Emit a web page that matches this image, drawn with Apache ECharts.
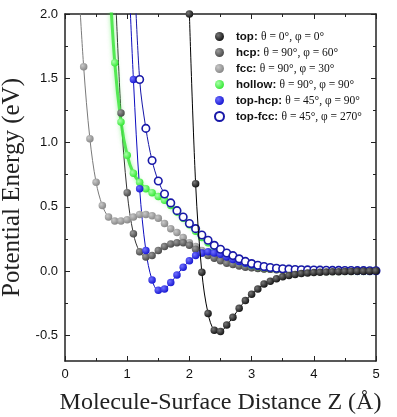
<!DOCTYPE html>
<html>
<head>
    <meta charset="UTF-8">
    <title>potential energy curves</title>
    <script src="https://cdn.jsdelivr.net/npm/echarts@6/dist/echarts.min.js"></script>
</head>
<body style="margin:0">
<div id="main" style="width:397px;height:417px;"></div>
<script type="text/javascript">
    // Z (Angstrom), one point every 0.1
    var distance = [0.0, 0.1, 0.2, 0.3, 0.4, 0.5, 0.6, 0.7, 0.8, 0.9,
        1.0, 1.1, 1.2, 1.3, 1.4, 1.5, 1.6, 1.7, 1.8, 1.9,
        2.0, 2.1, 2.2, 2.3, 2.4, 2.5, 2.6, 2.7, 2.8, 2.9,
        3.0, 3.1, 3.2, 3.3, 3.4, 3.5, 3.6, 3.7, 3.8, 3.9,
        4.0, 4.1, 4.2, 4.3, 4.4, 4.5, 4.6, 4.7, 4.8, 4.9, 5.0];

    var names = ['top', 'hcp', 'fcc', 'hollow', 'top-hcp', 'top-fcc'];
    var thetas = [0, 90, 90, 90, 45, 45];
    var phis = [0, 60, 30, 90, 90, 270];

    // energies in eV (null = not computed)
    var eTop = [null, null, null, null, null, null, null, null, null, null,
        null, null, null, null, null, null, null, null, null, null,
        2.0, 0.68, -0.01, -0.33, -0.46, -0.47, -0.42, -0.36, -0.29, -0.23,
        -0.18, -0.14, -0.10, -0.08, -0.06, -0.045, -0.035, -0.027, -0.02, -0.016,
        -0.012, -0.01, -0.008, -0.006, -0.005, -0.004, -0.003, -0.002, -0.002, -0.001, 0];
    var eHcp = [null, null, null, null, null, null, null, null, 2.3, 1.23,
        0.61, 0.29, 0.15, 0.11, 0.12, 0.16, 0.19, 0.21, 0.22, 0.22,
        0.20, 0.17, 0.14, 0.12, 0.10, 0.08, 0.06, 0.05, 0.04, 0.03,
        0.025, 0.02, 0.016, 0.013, 0.01, 0.008, 0.006, 0.005, 0.004, 0.003,
        0.003, 0.002, 0.002, 0.002, 0.001, 0.001, 0.001, 0.001, 0, 0, 0];
    var eFcc = [null, null, 2.4, 1.59, 1.03, 0.69, 0.51, 0.42, 0.39, 0.39,
        0.40, 0.42, 0.44, 0.44, 0.43, 0.41, 0.37, 0.33, 0.30, 0.26,
        0.22, 0.19, 0.16, 0.13, 0.11, 0.09, 0.07, 0.055, 0.045, 0.035,
        0.028, 0.022, 0.018, 0.014, 0.011, 0.009, 0.007, 0.006, 0.005, 0.004,
        0.003, 0.003, 0.002, 0.002, 0.002, 0.001, 0.001, 0.001, 0, 0, 0];
    var eHollow = [null, null, null, null, null, null, null, 2.4, 1.62, 1.16,
        0.90, 0.76, 0.69, 0.64, 0.61, 0.58, 0.55, 0.51, 0.46, 0.41,
        0.36, 0.31, 0.26, 0.22, 0.18, 0.15, 0.12, 0.095, 0.075, 0.06,
        0.045, 0.035, 0.028, 0.022, 0.018, 0.014, 0.011, 0.009, 0.007, 0.006,
        0.005, 0.004, 0.003, 0.003, 0.002, 0.002, 0.002, 0.001, 0.001, 0.001, 0];
    var eTopHcp = [null, null, null, null, null, null, null, null, null, null,
        2.6, 1.49, 0.64, 0.16, -0.07, -0.15, -0.14, -0.09, -0.03, 0.03,
        0.08, 0.12, 0.14, 0.15, 0.14, 0.13, 0.11, 0.09, 0.075, 0.06,
        0.047, 0.037, 0.03, 0.024, 0.019, 0.015, 0.012, 0.01, 0.008, 0.007,
        0.006, 0.005, 0.004, 0.004, 0.003, 0.003, 0.002, 0.002, 0.001, 0.001, 0];
    var eTopFcc = [null, null, null, null, null, null, null, null, null, null,
        null, 2.5, 1.49, 1.11, 0.86, 0.70, 0.60, 0.53, 0.47, 0.42,
        0.37, 0.33, 0.28, 0.24, 0.20, 0.17, 0.14, 0.12, 0.095, 0.075,
        0.058, 0.045, 0.035, 0.028, 0.022, 0.018, 0.015, 0.012, 0.01, 0.009,
        0.008, 0.007, 0.006, 0.005, 0.005, 0.004, 0.004, 0.003, 0.003, 0.002, 0.002];

    var yMajor = [-0.5, 0, 0.5, 1.0, 1.5, 2.0];
    var yMinor = [-0.25, 0.25, 0.75, 1.25, 1.75];

    function pairs(vals) {
        var out = [];
        for (var i = 0; i < distance.length; i++) {
            if (vals[i] !== null) out.push([distance[i], vals[i]]);
        }
        return out;
    }
    // shaded ball look of the markers
    function ball(base, light) {
        return {
            type: 'radial', x: 0.35, y: 0.35, r: 0.75,
            colorStops: [{offset: 0, color: light}, {offset: 1, color: base}]
        };
    }

    var axisCol = '#222';
    var myChart = echarts.init(document.getElementById('main'));

    function lineSeries(name, vals, lineCol, fill, extra) {
        var s = {
            name: name,
            type: 'line',
            data: pairs(vals),
            smooth: 0.35,
            symbol: 'circle',
            symbolSize: 7.5,
            clip: true,
            lineStyle: {color: lineCol, width: 1},
            itemStyle: {color: fill},
            emphasis: {disabled: true},
            z: 2
        };
        for (var k in extra) s[k] = extra[k];
        return s;
    }

    var tickAxisY = function (pos, vals, len, line) {
        return {
            type: 'value', position: pos, min: -0.7, max: 2.0,
            axisLine: {show: line, onZero: false, lineStyle: {color: axisCol, width: 1.5}},
            axisTick: {show: true, inside: true, length: len, customValues: vals,
                lineStyle: {color: axisCol, width: 1}},
            axisLabel: {show: false},
            splitLine: {show: false}
        };
    };

    myChart.setOption({
        animation: false,
        backgroundColor: '#fff',
        grid: {left: 65, right: 21, top: 14, bottom: 56, containLabel: false, outerBoundsMode: 'none'},
        legend: {
            orient: 'vertical',
            left: 209,
            top: 25,
            icon: 'circle',
            itemWidth: 9,
            itemHeight: 9,
            itemGap: 3,
            data: names,
            formatter: function (n) {
                var i = names.indexOf(n);
                return '{b|' + n + ':} {t|θ = ' + thetas[i] + '°, φ = ' + phis[i] + '°}';
            },
            textStyle: {
                lineHeight: 13,
                rich: {
                    b: {fontFamily: 'Liberation Sans', fontWeight: 'bold', fontSize: 11.5,
                        color: '#111', lineHeight: 13, padding: [0, 0, 0, 7]},
                    t: {fontFamily: 'Liberation Serif', fontSize: 11.5, color: '#111', lineHeight: 13}
                }
            }
        },
        xAxis: [{
            type: 'value', min: 0, max: 5, interval: 1,
            name: 'Molecule-Surface Distance Z (Å)',
            nameLocation: 'middle', nameGap: 30,
            nameTextStyle: {fontFamily: 'Liberation Serif', fontSize: 24, color: '#222'},
            axisLine: {onZero: false, lineStyle: {color: axisCol, width: 1.5}},
            axisTick: {inside: true, length: 5, lineStyle: {color: axisCol}},
            minorTick: {show: true, splitNumber: 2, length: 3, lineStyle: {color: axisCol}},
            axisLabel: {fontFamily: 'Liberation Sans', fontSize: 13, color: '#111', margin: 7},
            splitLine: {show: false}
        }, {
            type: 'value', min: 0, max: 5, interval: 1, position: 'top',
            axisLine: {onZero: false, lineStyle: {color: axisCol, width: 1.5}},
            axisTick: {inside: true, length: 5, lineStyle: {color: axisCol}},
            minorTick: {show: true, splitNumber: 2, length: 3, lineStyle: {color: axisCol}},
            axisLabel: {show: false},
            splitLine: {show: false}
        }],
        yAxis: [{
            type: 'value', min: -0.7, max: 2.0,
            name: 'Potential Energy (eV)',
            nameLocation: 'middle', nameGap: 31,
            nameTextStyle: {fontFamily: 'Liberation Serif', fontSize: 25, color: '#222'},
            axisLine: {onZero: false, lineStyle: {color: axisCol, width: 1.5}},
            axisTick: {inside: true, length: 5, customValues: yMajor, lineStyle: {color: axisCol}},
            axisLabel: {
                customValues: yMajor,
                fontFamily: 'Liberation Sans', fontSize: 13, color: '#111', margin: 7,
                formatter: function (v) { return v.toFixed(1); }
            },
            splitLine: {show: false}
        },
            tickAxisY('left', yMinor, 3, false),
            tickAxisY('right', yMajor, 5, true),
            tickAxisY('right', yMinor, 3, false)
        ],
        series: [
            lineSeries('fcc', eFcc, '#7a7a7a', ball('#808080', '#c8c8c8')),
            lineSeries('hcp', eHcp, '#333', ball('#404040', '#9a9a9a')),
            lineSeries('hollow', eHollow, '#3ee63e', ball('#28e628', '#a8ffa8'), {
                lineStyle: {color: '#3ee63e', width: 3, opacity: 0.85,
                    shadowBlur: 4, shadowColor: 'rgba(60,230,60,0.6)'}
            }),
            lineSeries('top-hcp', eTopHcp, '#0c0cc0', ball('#0d0dcc', '#7070ff')),
            lineSeries('top-fcc', eTopFcc, '#1616a8', '#fff', {
                itemStyle: {color: '#fff', borderColor: '#1818a8', borderWidth: 1.6}
            }),
            lineSeries('top', eTop, '#000', ball('#0a0a0a', '#777'), {z: 3})
        ]
    });
</script>
</body>
</html>
